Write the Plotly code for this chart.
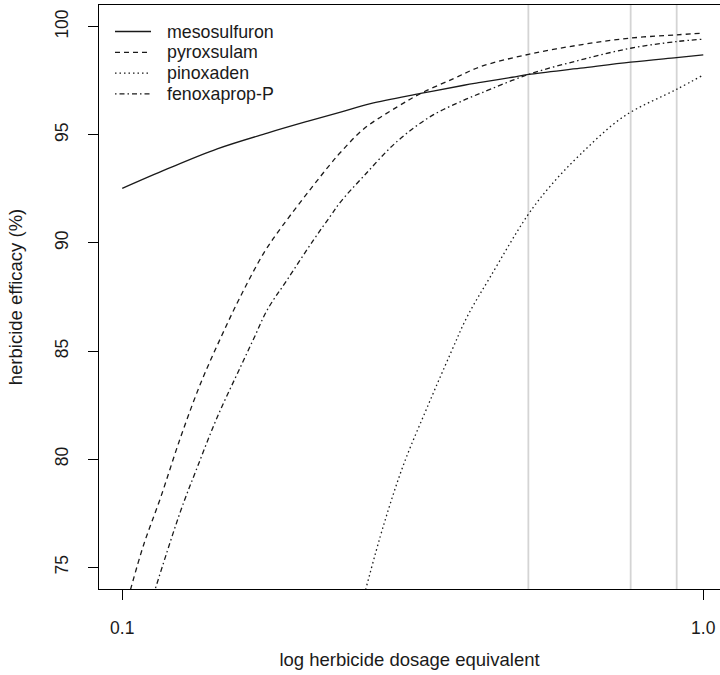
import plotly.graph_objects as go

# ---- data ----
meso_x = [0.1, 0.1195, 0.1457, 0.1777, 0.2082, 0.2376, 0.2675, 0.3263, 0.3873, 0.4137, 0.4691, 0.5005, 0.6148, 0.7497, 0.8995, 1.0]
meso_y = [92.52, 93.42, 94.35, 95.08, 95.62, 96.05, 96.44, 96.91, 97.29, 97.42, 97.66, 97.79, 98.08, 98.36, 98.57, 98.69]

pyrox_x = [0.1033, 0.1089, 0.1164, 0.1260, 0.1364, 0.1476, 0.1598, 0.1753, 0.1886, 0.2109, 0.2283, 0.2376, 0.2606, 0.2974, 0.3263, 0.3721, 0.4137, 0.5005, 0.6148, 0.7497, 0.8995, 1.0]
pyrox_y = [73.96, 76.06, 78.22, 81.01, 83.50, 85.59, 87.53, 89.54, 90.78, 92.49, 93.65, 94.19, 95.28, 96.29, 96.91, 97.60, 98.15, 98.72, 99.16, 99.47, 99.62, 99.70]

pinox_x = [0.2623, 0.2820, 0.3052, 0.3350, 0.3673, 0.3925, 0.4304, 0.4978, 0.5459, 0.6148, 0.7292, 0.8995, 1.0]
pinox_y = [73.96, 76.99, 79.78, 82.41, 84.89, 86.60, 88.45, 91.25, 92.64, 94.10, 95.84, 97.10, 97.76]

fenox_x = [0.1141, 0.1260, 0.1346, 0.1457, 0.1598, 0.1685, 0.1777, 0.1923, 0.2137, 0.2283, 0.2376, 0.2606, 0.2974, 0.3395, 0.3873, 0.4137, 0.5005, 0.6148, 0.7497, 0.8995, 1.0]
fenox_y = [74.04, 77.60, 79.62, 81.94, 84.27, 85.59, 86.91, 88.30, 90.16, 91.25, 91.90, 93.10, 94.70, 95.85, 96.60, 96.92, 97.79, 98.46, 99.00, 99.31, 99.42]

series_names = ["mesosulfuron", "pyroxsulam", "pinoxaden", "fenoxaprop-P"]
grid_x = [0.5, 0.75, 0.9]
x_ticks = [0.1, 1.0]
x_ticktext = ["0.1", "1.0"]
y_ticks = [75, 80, 85, 90, 95, 100]
y_range = [74, 101]

FONT = "Liberation Sans, Arial, sans-serif"
LINE_COL = "#1a1a1a"
TXT_COL = "#1a1a1a"

W, H = 720, 675
ML, MR, MT, MB = 99, 0, 5, 86
PW, PH = W - ML - MR, H - MT - MB

def px_x(p):
    return (p - ML) / PW

def px_y(p):
    return 1 - (p - MT) / PH

fig = go.Figure()

# light grey vertical reference lines
for gx in grid_x:
    fig.add_trace(go.Scatter(x=[gx, gx], y=y_range, mode="lines",
                             line=dict(color="#d4d4d4", width=1.8),
                             showlegend=False, hoverinfo="skip"))

styles = ["solid", "5px,4px", "1.5px,3px", "1.5px,3px,5px,3px"]
data = [(meso_x, meso_y), (pyrox_x, pyrox_y), (pinox_x, pinox_y), (fenox_x, fenox_y)]
for name, (xs, ys), dash in zip(series_names, data, styles):
    fig.add_trace(go.Scatter(x=xs, y=ys, mode="lines", name=name, showlegend=False,
                             line=dict(color=LINE_COL, width=1.3, shape="spline",
                                       smoothing=1.0, dash=dash)))

# legend drawn in the R style (no box), top-left inside the plot
shapes = []
annotations = []
for i, (name, dash) in enumerate(zip(series_names, styles)):
    yc = px_y(31.5 + 20.8 * i)
    shapes.append(dict(type="line", xref="paper", yref="paper",
                       x0=px_x(115), x1=px_x(151), y0=yc, y1=yc,
                       line=dict(color=LINE_COL, width=1.3, dash=dash)))
    annotations.append(dict(xref="paper", yref="paper", x=px_x(165), y=yc,
                            xanchor="left", yanchor="middle", text=name,
                            showarrow=False, font=dict(size=17.8, color=TXT_COL)))

fig.update_layout(
    width=W, height=H,
    margin=dict(l=ML, r=MR, t=MT, b=MB),
    paper_bgcolor="white", plot_bgcolor="white",
    font=dict(family=FONT, size=17.5, color=TXT_COL),
    showlegend=False,
    shapes=shapes, annotations=annotations,
)

fig.update_xaxes(
    type="log", range=[-1.04, 0.0288],
    tickvals=x_ticks, ticktext=x_ticktext,
    ticks="outside", ticklen=10, tickcolor="black", tickwidth=1,
    ticklabelstandoff=13,
    showline=True, linecolor="black", linewidth=1, mirror=True,
    showgrid=False, zeroline=False,
    title=dict(text="log herbicide dosage equivalent", standoff=16,
               font=dict(size=18.5)),
)
fig.update_yaxes(
    range=y_range, tickvals=y_ticks,
    ticks="outside", ticklen=10, tickcolor="black", tickwidth=1,
    tickangle=-90, ticklabelstandoff=13,
    showline=True, linecolor="black", linewidth=1, mirror=False,
    showgrid=False, zeroline=False,
    title=dict(text="herbicide efficacy (%)", standoff=24,
               font=dict(size=18.5)),
)

fig.write_html("out.html")
